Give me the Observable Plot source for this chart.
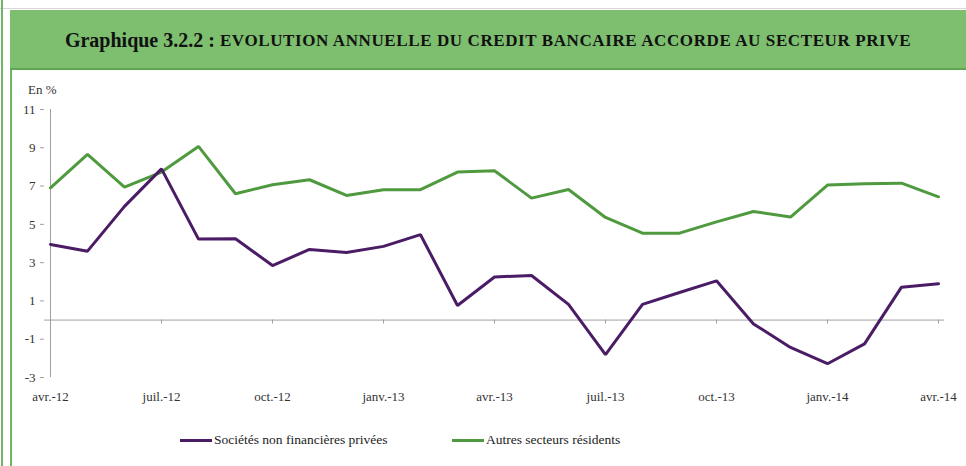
<!DOCTYPE html>
<html>
<head>
<meta charset="utf-8">
<script src="https://cdn.jsdelivr.net/npm/d3@7"></script>
<script src="https://cdn.jsdelivr.net/npm/@observablehq/plot@0.6"></script>
<style>
  html, body { margin: 0; padding: 0; background: #fff; }
  #wrap { position: relative; width: 966px; height: 466px; overflow: hidden; font-family: 'Liberation Serif', serif; }
  #topline { position: absolute; left: 0; top: 8px; width: 966px; height: 1px; background: #d8d8d8; }
  #banner { position: absolute; left: 10px; top: 10px; width: 956px; height: 60px; background: #7dbe6f; border-bottom: 2px solid #5fa552;
            display: flex; align-items: center; justify-content: center; color: #111; font-weight: bold; white-space: nowrap; padding-top: 3px; box-sizing: border-box; }
  #banner .a { font-size: 20px; }
  #banner .b { font-size: 17px; letter-spacing: 0.6px; }
  .vline { position: absolute; top: 0; width: 2px; height: 466px; background: #6fb462; }
  #chart { position: absolute; left: 0; top: 0; }
  #unit { position: absolute; left: 28px; top: 82px; font-size: 13px; color: #333; }
  .leg { position: absolute; top: 432px; font-size: 13.5px; color: #222; display: flex; align-items: center; }
  .sw { display: inline-block; width: 32px; height: 3px; margin-right: 2px; }
</style>
</head>
<body>
<div id="wrap">
  <div id="topline"></div>
  <div class="vline" style="left:1px"></div>
  <div class="vline" style="left:10px; top:70px; height:396px"></div>
  <div id="banner"><span class="a">Graphique 3.2.2 :&nbsp;</span><span class="b">EVOLUTION ANNUELLE DU CREDIT BANCAIRE ACCORDE AU SECTEUR PRIVE</span></div>
  <div id="chart"></div>
  <div id="unit">En %</div>
  <div class="leg" style="left:180px"><span class="sw" style="background:#4b1c66"></span>Sociétés non financières privées</div>
  <div class="leg" style="left:452px"><span class="sw" style="background:#4f9a3f"></span>Autres secteurs résidents</div>
</div>
<script>
const months = ["avr.-12","mai-12","juin-12","juil.-12","août-12","sept.-12","oct.-12","nov.-12","déc.-12",
  "janv.-13","févr.-13","mars-13","avr.-13","mai-13","juin-13","juil.-13","août-13","sept.-13","oct.-13",
  "nov.-13","déc.-13","janv.-14","févr.-14","mars-14","avr.-14"];
const societes = [3.95, 3.6, 5.94, 7.9, 4.23, 4.25, 2.85, 3.69, 3.53, 3.85, 4.46, 0.76, 2.25,
  2.33, 0.82, -1.81, 0.82, 1.44, 2.05, -0.2, -1.43, -2.28, -1.24, 1.72, 1.9];
const autres = [6.91, 8.65, 6.95, 7.73, 9.07, 6.6, 7.07, 7.33, 6.51, 6.81, 6.81, 7.73, 7.8,
  6.37, 6.82, 5.36, 4.54, 4.54, 5.13, 5.67, 5.38, 7.05, 7.12, 7.15, 6.44];
const yTicks = [-3, -1, 1, 3, 5, 7, 9, 11];
const xTicks = ["avr.-12","juil.-12","oct.-12","janv.-13","avr.-13","juil.-13","oct.-13","janv.-14","avr.-14"];

const dS = months.map((m, i) => ({m, v: societes[i]}));
const dA = months.map((m, i) => ({m, v: autres[i]}));

const chart = Plot.plot({
  width: 966, height: 466,
  marginLeft: 44, marginRight: 22, marginTop: 109, marginBottom: 89,
  style: {fontFamily: "'Liberation Serif', serif", fontSize: "13px", color: "#333", background: "transparent"},
  x: {type: "point", domain: months, padding: 0, label: null},
  y: {domain: [-3, 11], label: null},
  marks: [
    Plot.ruleY([0], {stroke: "#a0a0a0", strokeWidth: 1}),
    Plot.ruleX([months[0]], {y1: -3, y2: 11, stroke: "#a0a0a0", strokeWidth: 1}),
    Plot.ruleX(xTicks, {x: d => d, y1: 0, y2: -0.21, stroke: "#a0a0a0"}),
    Plot.axisY({ticks: yTicks, tickSize: 4, tickPadding: 5, stroke: "#a0a0a0", fill: "#333", fontSize: 13, tickFormat: d => String(d), label: null}),
    Plot.axisX({ticks: xTicks, tickSize: 0, tickPadding: 14, fill: "#333", fontSize: 13, label: null}),
    Plot.line(dA, {x: "m", y: "v", stroke: "#4f9a3f", strokeWidth: 3, strokeLinejoin: "miter"}),
    Plot.line(dS, {x: "m", y: "v", stroke: "#4b1c66", strokeWidth: 3, strokeLinejoin: "miter"})
  ]
});
document.getElementById("chart").appendChild(chart);
</script>
</body>
</html>
